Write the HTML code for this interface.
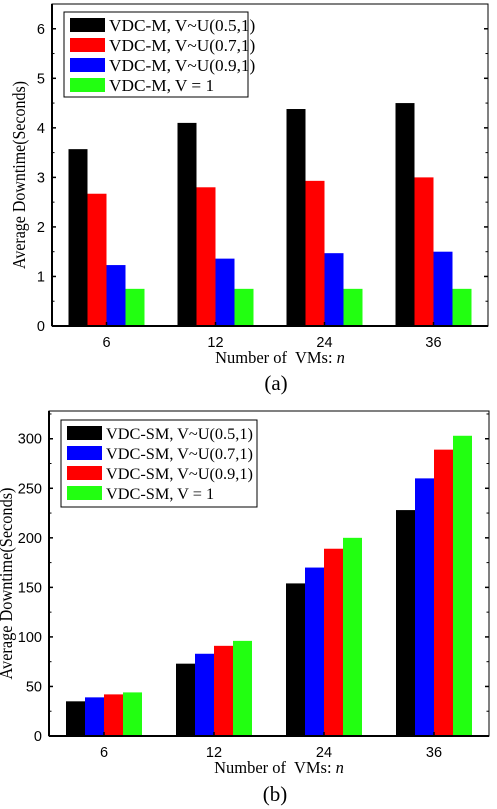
<!DOCTYPE html>
<html><head><meta charset="utf-8">
<style>
html,body{margin:0;padding:0;background:#fff;}
svg{display:block;}
text{font-family:"Liberation Sans",Arial,sans-serif;}
.serif{font-family:"Liberation Serif","Times New Roman",serif;}
</style></head>
<body>
<svg id="fig" width="497" height="809" viewBox="0 0 497 809" xmlns="http://www.w3.org/2000/svg"></svg>
<script>
// Chart (a)
const catsA = ["6","12","24","36"];
const seriesNamesA = ["VDC-M, V~U(0.5,1)","VDC-M, V~U(0.7,1)","VDC-M, V~U(0.9,1)","VDC-M, V = 1"];
const blackA = [3.57, 4.10, 4.38, 4.50];
const redA = [2.67, 2.80, 2.93, 3.00];
const blueA = [1.23, 1.36, 1.47, 1.50];
const greenA = [0.75, 0.75, 0.75, 0.75];
const ticksA = [0,1,2,3,4,5,6];
// Chart (b)
const catsB = ["6","12","24","36"];
const seriesNamesB = ["VDC-SM, V~U(0.5,1)","VDC-SM, V~U(0.7,1)","VDC-SM, V~U(0.9,1)","VDC-SM, V = 1"];
const blackB = [35, 73, 154, 228];
const blueB = [39, 83, 170, 260];
const redB = [42, 91, 189, 289];
const greenB = [44, 96, 200, 303];
const ticksB = [0,50,100,150,200,250,300];

const NS = "http://www.w3.org/2000/svg";
const svg = document.getElementById("fig");
function mk(tag, attrs, parent){
  const e = document.createElementNS(NS, tag);
  for (const k in attrs) e.setAttribute(k, attrs[k]);
  (parent||svg).appendChild(e);
  return e;
}

function drawChart(cfg){
  const g = mk("g", {});
  
  
  const {L,R,T,B,ymax,minor} = cfg;
  const y = v => B - v/ymax*(B-T);
  const band = (R-L)/cfg.cats.length;
  const xc = i => L + band*(i+0.5);
  const bw = cfg.bw;
  cfg.series.forEach((vals, s) => {
    vals.forEach((v, i) => {
      const r = mk("rect", {x: xc(i) - 2*bw + s*bw, y: y(v), width: bw, height: B - y(v), fill: cfg.colors[s]}, g);
      
      
    });
  });
  const fr = mk("rect", {x:L, y:T, width:R-L, height:B-T, fill:"none", stroke:"#000", "stroke-width":1}, g);
  
  
  mk("line", {x1:L, y1:B, x2:R, y2:B, stroke:"#000", "stroke-width":2}, g);
  mk("line", {x1:L, y1:T, x2:L, y2:B, stroke:"#000", "stroke-width":2}, g);
  cfg.ticks.forEach(t => {
    mk("line", {x1:L, y1:y(t), x2:L+4, y2:y(t), stroke:"#000", "stroke-width":1.5}, g);
    mk("line", {x1:R, y1:y(t), x2:R-4, y2:y(t), stroke:"#000", "stroke-width":1.5}, g);
    const tx = mk("text", {x:L-7, y:y(t)+5, "text-anchor":"end", "font-size":14.5, fill:"#000"}, g);
    tx.textContent = String(t);
    
    
    const m = t + minor;
    if (m < ymax) {
      mk("line", {x1:L, y1:y(m), x2:L+2.5, y2:y(m), stroke:"#000", "stroke-width":1}, g);
      mk("line", {x1:R, y1:y(m), x2:R-2.5, y2:y(m), stroke:"#000", "stroke-width":1}, g);
    }
  });
  cfg.cats.forEach((c, i) => {
    mk("line", {x1:xc(i), y1:B, x2:xc(i), y2:B-4, stroke:"#000", "stroke-width":1.5}, g);
    const tx = mk("text", {x:xc(i), y:B+21, "text-anchor":"middle", "font-size":14.5, fill:"#000"}, g);
    tx.textContent = c;
    
    
  });
  const xt = mk("text", {x:(L+R)/2+10, y:B+37, "text-anchor":"middle", "font-size":16.5, fill:"#000", class:"serif"}, g);
  xt.innerHTML = 'Number of&#160; VMs: <tspan font-style="italic">n</tspan>';
  
  
  const yt = mk("text", {x:0, y:0, "text-anchor":"middle", "font-size":17.5, fill:"#000", class:"serif",
    textLength:cfg.ytLen, lengthAdjust:"spacingAndGlyphs",
    transform:"translate(" + cfg.ytx + "," + ((T+B)/2+10) + ") rotate(-90)"}, g);
  yt.textContent = "Average Downtime(Seconds)";
  
  
  const cap = mk("text", {x:(L+R)/2+6, y:cfg.capY, "text-anchor":"middle", "font-size":21, fill:"#000", class:"serif"}, g);
  cap.textContent = cfg.caption;
  
  
  const lg = mk("g", {}, g);
  
  
  const lb = cfg.leg;
  mk("rect", {x:lb.x, y:lb.y, width:lb.w, height:lb.h, fill:"#fff", stroke:"#000", "stroke-width":1}, lg);
  cfg.names.forEach((n, s) => {
    const ry = lb.y + 13 + s*20;
    const e = mk("g", {}, lg);
    
    
    mk("rect", {x:lb.x+6, y:ry-7, width:35, height:14, fill:cfg.legColors[s]}, e);
    const t = mk("text", {x:lb.x+45, y:ry+6, "font-size":lb.fs, fill:"#000", class:"serif"}, e);
    t.textContent = n;
  });
}

drawChart({name:"chart-a", L:52, R:488, T:4, B:326, ymax:6.5, minor:0.5, bw:19,
  cats:catsA, series:[blackA, redA, blueA, greenA], colors:["#000","#ff0000","#0000ff","#22ff11"],
  legColors:["#000","#ff0000","#0000ff","#22ff11"],
  ticks:ticksA, names:seriesNamesA, ytx:25, ytLen:188, capY:390, caption:"(a)",
  leg:{x:64, y:12, w:184, h:85, fs:17.3}});

drawChart({name:"chart-b", L:49, R:489, T:411, B:736, ymax:328, minor:25, bw:19,
  cats:catsB, series:[blackB, blueB, redB, greenB], colors:["#000","#0000ff","#ff0000","#22ff11"],
  legColors:["#000","#0000ff","#ff0000","#22ff11"],
  ticks:ticksB, names:seriesNamesB, ytx:12, ytLen:192, capY:801, caption:"(b)",
  leg:{x:61, y:420, w:196, h:87, fs:16.3}});
</script>
</body></html>
